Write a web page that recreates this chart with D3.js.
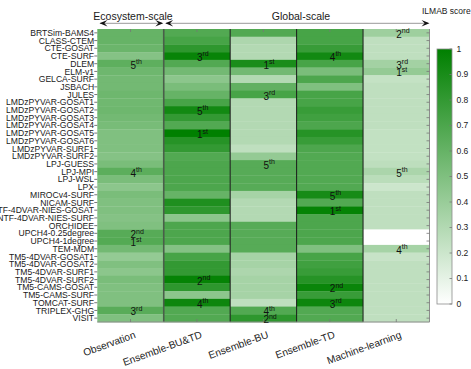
<!DOCTYPE html>
<html>
<head>
<meta charset="utf-8">
<script src="https://cdn.jsdelivr.net/npm/d3@7"></script>
<style>
  body { margin: 0; background: #fff; }
  text { font-family: "Liberation Sans", Arial, Helvetica, sans-serif; }
</style>
</head>
<body>
<div id="chart"></div>
<script>
// model names, top to bottom
var models = ["BRTSim-BAMS4", "CLASS-CTEM", "CTE-GOSAT", "CTE-SURF", "DLEM", "ELM-v1", "GELCA-SURF", "JSBACH", "JULES",
  "LMDzPYVAR-GOSAT1", "LMDzPYVAR-GOSAT2", "LMDzPYVAR-GOSAT3", "LMDzPYVAR-GOSAT4", "LMDzPYVAR-GOSAT5", "LMDzPYVAR-GOSAT6",
  "LMDzPYVAR-SURF1", "LMDzPYVAR-SURF2", "LPJ-GUESS", "LPJ-MPI", "LPJ-WSL", "LPX", "MIROCv4-SURF", "NICAM-SURF",
  "NTF-4DVAR-NIES-GOSAT", "NTF-4DVAR-NIES-SURF", "ORCHIDEE", "UPCH4-0.25degree", "UPCH4-1degree", "TEM-MDM",
  "TM5-4DVAR-GOSAT1", "TM5-4DVAR-GOSAT2", "TM5-4DVAR-SURF1", "TM5-4DVAR-SURF2", "TM5-CAMS-GOSAT", "TM5-CAMS-SURF",
  "TOMCAT-SURF", "TRIPLEX-GHG", "VISIT"];

var methods = ["Observation", "Ensemble-BU&TD", "Ensemble-BU", "Ensemble-TD", "Machine-learning"];

// ILMAB scores per benchmark (same order as models)
var obsScores = [0.60, 0.60, 0.58, 0.48, 0.63, 0.57, 0.55, 0.55, 0.57, 0.56, 0.57, 0.55, 0.53, 0.50, 0.50, 0.50, 0.48, 0.52, 0.64,
  0.52, 0.45, 0.52, 0.50, 0.50, 0.48, 0.50, 0.66, 0.67, 0.55, 0.42, 0.50, 0.45, 0.52, 0.50, 0.50, 0.50, 0.65, 0.50];
var buTdScores = [0.68, 0.72, 0.82, 0.97, 0.68, 0.55, 0.45, 0.52, 0.60, 0.72, 0.93, 0.80, 0.68, 1.00, 0.85, 0.80, 0.68, 0.70, 0.70,
  0.70, 0.70, 0.60, 0.88, 0.82, 0.45, 0.70, 0.70, 0.70, 0.48, 0.72, 0.80, 0.80, 0.98, 0.82, 0.45, 0.95, 0.68, 0.68];
var buScores = [0.68, 0.32, 0.30, 0.30, 0.90, 0.55, 0.30, 0.62, 0.72, 0.30, 0.30, 0.30, 0.30, 0.30, 0.30, 0.25, 0.42, 0.66, 0.66,
  0.66, 0.66, 0.35, 0.30, 0.30, 0.30, 0.66, 0.66, 0.66, 0.66, 0.35, 0.35, 0.32, 0.35, 0.35, 0.35, 0.25, 0.68, 0.82];
var tdScores = [0.72, 0.72, 0.78, 0.93, 0.72, 0.52, 0.70, 0.50, 0.72, 0.72, 0.78, 0.75, 0.70, 0.85, 0.78, 0.70, 0.68, 0.68, 0.68,
  0.68, 0.68, 0.91, 0.68, 0.98, 0.70, 0.70, 0.70, 0.70, 0.50, 0.72, 0.75, 0.78, 0.85, 0.96, 0.78, 0.95, 0.68, 0.68];
var mlScores = [0.38, 0.25, 0.25, 0.25, 0.36, 0.42, 0.23, 0.25, 0.25, 0.25, 0.25, 0.25, 0.25, 0.24, 0.24, 0.24, 0.24, 0.26, 0.33,
  0.27, 0.20, 0.25, 0.25, 0.25, 0.25, 0.25, null, null, 0.35, 0.22, 0.25, 0.25, 0.25, 0.25, 0.25, 0.25, 0.25, 0.25];

// top five models per benchmark, 1st..5th
var obsTop = ["UPCH4-1degree", "UPCH4-0.25degree", "TRIPLEX-GHG", "LPJ-MPI", "DLEM"];
var buTdTop = ["LMDzPYVAR-GOSAT5", "TM5-4DVAR-SURF2", "CTE-SURF", "TOMCAT-SURF", "LMDzPYVAR-GOSAT2"];
var buTop = ["DLEM", "VISIT", "JULES", "TRIPLEX-GHG", "LPJ-GUESS"];
var tdTop = ["NTF-4DVAR-NIES-GOSAT", "TM5-CAMS-GOSAT", "TOMCAT-SURF", "CTE-SURF", "MIROCv4-SURF"];
var mlTop = ["ELM-v1", "BRTSim-BAMS4", "DLEM", "TEM-MDM", "LPJ-MPI"];

var rankSuffix = ["st", "nd", "rd", "th", "th"];
var colorTicks = [0, 0.1, 0.2, 0.3, 0.4, 0.5, 0.6, 0.7, 0.8, 0.9, 1];

var scoreCols = [obsScores, buTdScores, buScores, tdScores, mlScores];
var topCols = [obsTop, buTdTop, buTop, tdTop, mlTop];

var width = 471, height = 369;
var plotLeft = 97.3, plotRight = 429.5, plotTop = 29, plotBottom = 322;

var svg = d3.select("#chart").append("svg")
  .attr("width", width)
  .attr("height", height);

var x = d3.scaleBand().domain(methods).range([plotLeft, plotRight]);
var y = d3.scaleBand().domain(models).range([plotTop, plotBottom]);
var color = d3.scaleLinear().domain([0, 1]).range(["#ffffff", "#008000"]);

var cells = [];
methods.forEach(function (m, j) {
  models.forEach(function (name, i) {
    cells.push({ method: m, model: name, value: scoreCols[j][i] });
  });
});

svg.append("g").selectAll("rect")
  .data(cells)
  .enter()
  .append("rect")
  .attr("x", function (d) { return x(d.method); })
  .attr("y", function (d) { return y(d.model); })
  .attr("width", x.bandwidth() + 0.3)
  .attr("height", y.bandwidth() + 0.3)
  .attr("fill", function (d) { return d.value == null ? "#ffffff" : color(d.value); });

// column dividers
methods.slice(1).forEach(function (m, i) {
  svg.append("line")
    .attr("x1", x(m)).attr("x2", x(m))
    .attr("y1", plotTop).attr("y2", plotBottom)
    .attr("stroke", i == 0 ? "#4a5e4a" : "#1a1a1a")
    .attr("stroke-width", i == 0 ? 1.6 : 1);
});

// axis box and ticks
svg.append("line").attr("x1", plotRight).attr("x2", plotRight).attr("y1", plotTop).attr("y2", plotBottom)
  .attr("stroke", "#8c8c8c").attr("stroke-width", 1);
svg.append("line").attr("x1", plotLeft).attr("x2", plotRight).attr("y1", plotBottom).attr("y2", plotBottom)
  .attr("stroke", "#8c8c8c").attr("stroke-width", 1);

models.forEach(function (name) {
  var ry = y(name) + y.bandwidth() / 2;
  svg.append("line").attr("x1", plotLeft - 3).attr("x2", plotLeft).attr("y1", ry).attr("y2", ry)
    .attr("stroke", "#555").attr("stroke-width", 0.8);
  svg.append("line").attr("x1", plotRight - 3).attr("x2", plotRight).attr("y1", ry).attr("y2", ry)
    .attr("stroke", "#777").attr("stroke-width", 0.8);
});
methods.forEach(function (m) {
  var cx = x(m) + x.bandwidth() / 2;
  svg.append("line").attr("x1", cx).attr("x2", cx).attr("y1", plotTop).attr("y2", plotTop + 3)
    .attr("stroke", "#777").attr("stroke-width", 0.8);
  svg.append("line").attr("x1", cx).attr("x2", cx).attr("y1", plotBottom - 3).attr("y2", plotBottom)
    .attr("stroke", "#777").attr("stroke-width", 0.8);
});

// model labels
svg.append("g").selectAll("text")
  .data(models)
  .enter()
  .append("text")
  .attr("x", plotLeft - 3.2)
  .attr("y", function (d) { return y(d) + y.bandwidth() / 2; })
  .attr("dy", "0.36em")
  .attr("text-anchor", "end")
  .attr("font-size", "8.6px")
  .attr("fill", "#1a1a1a")
  .text(function (d) { return d; });

// method labels, rotated
svg.append("g").selectAll("text")
  .data(methods)
  .enter()
  .append("text")
  .attr("transform", function (d) {
    return "translate(" + (x(d) + x.bandwidth() / 2 + 3) + "," + (plotBottom + 8) + ") rotate(-20)";
  })
  .attr("y", 8)
  .attr("text-anchor", "end")
  .attr("font-size", "10.2px")
  .attr("fill", "#1a1a1a")
  .text(function (d) { return d; });

// rank labels
topCols.forEach(function (list, j) {
  list.forEach(function (name, r) {
    var t = svg.append("text")
      .attr("x", x(methods[j]) + x.bandwidth() / 2)
      .attr("y", y(name) + y.bandwidth() / 2 + 5)
      .attr("font-size", "10px")
      .attr("fill", "#111");
    t.append("tspan").text(r + 1);
    t.append("tspan").attr("font-size", "7px").attr("dy", -4.5).text(rankSuffix[r]);
  });
});

// scale arrows on top
function arrowHead(px, py, dir) {
  var L = 8, W = 3.2;
  var p = d3.path();
  p.moveTo(px, py);
  p.lineTo(px - dir * L, py - W);
  p.lineTo(px - dir * L * 0.6, py);
  p.lineTo(px - dir * L, py + W);
  p.closePath();
  svg.append("path").attr("d", p.toString()).attr("fill", "#111");
}
var ay = 23.3;
svg.append("line").attr("x1", 100).attr("x2", 162).attr("y1", ay).attr("y2", ay)
  .attr("stroke", "#999").attr("stroke-width", 1);
svg.append("line").attr("x1", 166).attr("x2", 428).attr("y1", ay).attr("y2", ay)
  .attr("stroke", "#999").attr("stroke-width", 1);
arrowHead(99.5, ay, -1);
arrowHead(163.3, ay, 1);
arrowHead(165.2, ay, -1);
arrowHead(429.5, ay, 1);

svg.append("text").attr("x", 133).attr("y", 19.5).attr("text-anchor", "middle")
  .attr("font-size", "10.5px").attr("fill", "#1a1a1a").text("Ecosystem-scale");
svg.append("text").attr("x", 301).attr("y", 19.5).attr("text-anchor", "middle")
  .attr("font-size", "10.5px").attr("fill", "#1a1a1a").text("Global-scale");
svg.append("text").attr("x", 422).attr("y", 14).attr("font-size", "8.5px")
  .attr("fill", "#1a1a1a").text("ILMAB score");

// colorbar
var cbX = 437, cbW = 15, cbTop = 49, cbBottom = 304;
var cbY = d3.scaleLinear().domain([0, 1]).range([cbBottom, cbTop]);
var grad = svg.append("defs").append("linearGradient")
  .attr("id", "cbgrad")
  .attr("x1", "0%").attr("y1", "100%")
  .attr("x2", "0%").attr("y2", "0%");
grad.append("stop").attr("offset", "0%").attr("stop-color", color(0));
grad.append("stop").attr("offset", "100%").attr("stop-color", color(1));
svg.append("rect")
  .attr("x", cbX).attr("y", cbTop)
  .attr("width", cbW).attr("height", cbBottom - cbTop)
  .attr("fill", "url(#cbgrad)")
  .attr("stroke", "#8c8c8c").attr("stroke-width", 0.8);

colorTicks.forEach(function (v) {
  svg.append("line").attr("x1", cbX + cbW - 2.5).attr("x2", cbX + cbW).attr("y1", cbY(v)).attr("y2", cbY(v))
    .attr("stroke", "#777").attr("stroke-width", 0.8);
  svg.append("text")
    .attr("x", cbX + cbW + 4.5)
    .attr("y", cbY(v))
    .attr("dy", "0.35em")
    .attr("font-size", "8.5px")
    .attr("fill", "#1a1a1a")
    .text(v);
});
</script>
</body>
</html>
